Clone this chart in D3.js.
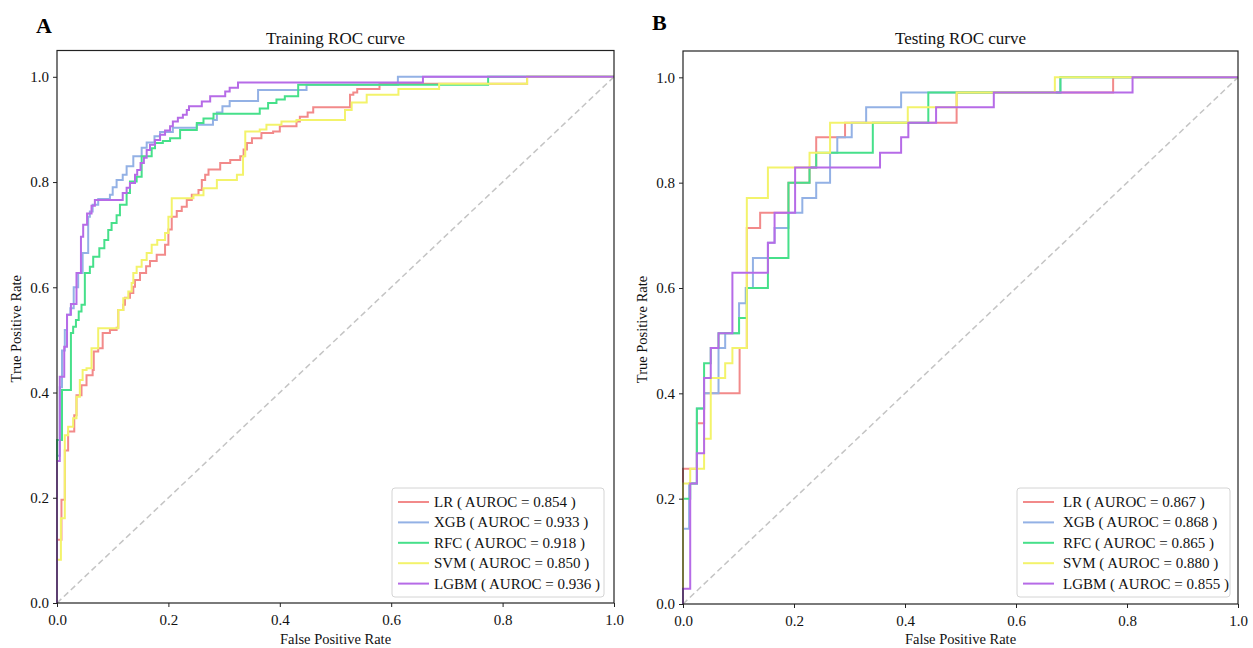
<!DOCTYPE html>
<html>
<head>
<meta charset="utf-8">
<script src="https://cdn.jsdelivr.net/npm/d3@7"></script>
<style>
  html, body { margin: 0; padding: 0; background: #fff; }
  svg { display: block; font-family: "Liberation Serif", "Times New Roman", serif; }
</style>
</head>
<body>
<svg id="chart" width="1253" height="648"></svg>
<script>
// Model names, colours and AUROC values
const models = ["LR", "XGB", "RFC", "SVM", "LGBM"];
const colors = ["#f28a8a", "#93b1e5", "#46e08a", "#f3f36b", "#b66be7"];
const trainAUC = [0.854, 0.933, 0.918, 0.850, 0.936];
const testAUC = [0.867, 0.868, 0.865, 0.880, 0.855];
const axisTicks = [0, 0.2, 0.4, 0.6, 0.8, 1.0];

// ROC corner points [FPR, TPR]; each point is the top of a vertical rise
const trainLR = [[0,0],[0,0.12],[0.008,0.196],[0.014,0.29],[0.02,0.326],[0.031,0.357],[0.035,0.395],[0.044,0.414],[0.053,0.433],[0.064,0.443],[0.066,0.478],[0.074,0.484],[0.082,0.513],[0.095,0.519],[0.107,0.523],[0.11,0.557],[0.119,0.567],[0.122,0.58],[0.131,0.589],[0.137,0.601],[0.14,0.614],[0.149,0.627],[0.16,0.64],[0.167,0.65],[0.179,0.662],[0.194,0.681],[0.2,0.71],[0.206,0.734],[0.215,0.745],[0.224,0.753],[0.233,0.766],[0.242,0.776],[0.254,0.785],[0.26,0.804],[0.266,0.814],[0.272,0.824],[0.293,0.836],[0.311,0.842],[0.329,0.849],[0.335,0.862],[0.341,0.874],[0.35,0.883],[0.367,0.893],[0.388,0.896],[0.4,0.906],[0.43,0.915],[0.436,0.924],[0.45,0.932],[0.46,0.942],[0.526,0.966],[0.532,0.97],[0.539,0.977],[0.579,0.987],[0.844,1],[1,1]];
const trainXGB = [[0,0],[0,0.28],[0.005,0.41],[0.009,0.48],[0.014,0.519],[0.018,0.548],[0.024,0.56],[0.03,0.6],[0.038,0.627],[0.046,0.665],[0.056,0.734],[0.059,0.744],[0.064,0.757],[0.074,0.768],[0.095,0.776],[0.1,0.79],[0.107,0.804],[0.118,0.814],[0.125,0.83],[0.137,0.849],[0.152,0.865],[0.161,0.875],[0.175,0.887],[0.185,0.895],[0.208,0.903],[0.251,0.909],[0.28,0.918],[0.287,0.932],[0.297,0.944],[0.31,0.954],[0.361,0.975],[0.448,0.985],[0.612,1],[1,1]];
const trainRFC = [[0,0],[0,0.31],[0.009,0.405],[0.025,0.513],[0.029,0.525],[0.034,0.538],[0.039,0.554],[0.044,0.567],[0.05,0.627],[0.059,0.639],[0.065,0.658],[0.076,0.674],[0.085,0.69],[0.092,0.709],[0.098,0.722],[0.107,0.737],[0.113,0.757],[0.125,0.779],[0.131,0.801],[0.143,0.81],[0.152,0.849],[0.17,0.864],[0.176,0.874],[0.19,0.878],[0.203,0.883],[0.221,0.899],[0.251,0.912],[0.263,0.921],[0.281,0.93],[0.364,0.94],[0.379,0.95],[0.394,0.957],[0.409,0.963],[0.433,0.985],[0.774,1],[1,1]];
const trainSVM = [[0,0],[0,0.082],[0.007,0.161],[0.014,0.319],[0.02,0.335],[0.029,0.351],[0.035,0.392],[0.041,0.424],[0.046,0.443],[0.053,0.446],[0.062,0.484],[0.074,0.522],[0.11,0.557],[0.119,0.579],[0.128,0.592],[0.134,0.608],[0.137,0.627],[0.143,0.639],[0.152,0.652],[0.161,0.665],[0.17,0.681],[0.18,0.69],[0.194,0.703],[0.2,0.734],[0.206,0.769],[0.245,0.775],[0.263,0.788],[0.287,0.804],[0.323,0.814],[0.334,0.849],[0.338,0.896],[0.364,0.9],[0.376,0.909],[0.403,0.915],[0.43,0.918],[0.517,0.937],[0.529,0.951],[0.556,0.966],[0.613,0.977],[0.686,0.987],[0.844,1],[1,1]];
const trainLGBM = [[0,0],[0,0.27],[0.005,0.43],[0.013,0.487],[0.018,0.548],[0.025,0.568],[0.035,0.627],[0.043,0.696],[0.047,0.719],[0.054,0.74],[0.062,0.755],[0.068,0.766],[0.118,0.779],[0.125,0.789],[0.131,0.798],[0.14,0.814],[0.144,0.823],[0.15,0.836],[0.156,0.846],[0.161,0.861],[0.167,0.871],[0.176,0.88],[0.185,0.89],[0.194,0.898],[0.203,0.906],[0.208,0.915],[0.217,0.922],[0.226,0.928],[0.233,0.937],[0.237,0.944],[0.26,0.953],[0.275,0.963],[0.302,0.972],[0.31,0.979],[0.325,0.989],[0.657,1],[1,1]];

const testLR = [[0,0],[0,0.257],[0.025,0.343],[0.038,0.4],[0.102,0.486],[0.115,0.714],[0.139,0.743],[0.19,0.8],[0.228,0.829],[0.24,0.886],[0.292,0.914],[0.493,0.971],[0.775,1],[1,1]];
const testXGB = [[0,0],[0,0.143],[0.011,0.229],[0.025,0.371],[0.038,0.4],[0.064,0.486],[0.076,0.514],[0.101,0.571],[0.113,0.6],[0.126,0.657],[0.153,0.686],[0.165,0.714],[0.19,0.743],[0.215,0.771],[0.24,0.8],[0.265,0.857],[0.278,0.886],[0.304,0.914],[0.33,0.943],[0.393,0.971],[0.68,1],[1,1]];
const testRFC = [[0,0],[0,0.2],[0.013,0.229],[0.025,0.371],[0.038,0.457],[0.05,0.486],[0.064,0.514],[0.101,0.543],[0.115,0.6],[0.153,0.657],[0.19,0.8],[0.228,0.829],[0.24,0.857],[0.342,0.914],[0.442,0.971],[0.68,1],[1,1]];
const testSVM = [[0,0],[0,0.229],[0.013,0.257],[0.038,0.314],[0.05,0.429],[0.076,0.457],[0.089,0.486],[0.115,0.771],[0.153,0.829],[0.228,0.857],[0.265,0.914],[0.405,0.943],[0.493,0.971],[0.67,1],[1,1]];
const testLGBM = [[0,0],[0,0.029],[0.013,0.229],[0.025,0.286],[0.038,0.429],[0.05,0.486],[0.064,0.514],[0.089,0.629],[0.153,0.686],[0.165,0.743],[0.202,0.829],[0.355,0.857],[0.393,0.886],[0.406,0.914],[0.456,0.943],[0.56,0.971],[0.81,1],[1,1]];

const trainCurves = [trainLR, trainXGB, trainRFC, trainSVM, trainLGBM];
const testCurves = [testLR, testXGB, testRFC, testSVM, testLGBM];

const svg = d3.select("#chart");
svg.append("rect").attr("width", 1253).attr("height", 648).attr("fill", "#fff");

function drawPanel(p) {
  const x = d3.scaleLinear().domain([0, 1]).range([p.left, p.right]);
  const y = d3.scaleLinear().domain([0, 1.05]).range([p.bottom, p.top]);
  const g = svg.append("g");

  // chance diagonal
  g.append("line")
    .attr("x1", x(0)).attr("y1", y(0)).attr("x2", x(1)).attr("y2", y(1))
    .attr("stroke", "#c4c4c4").attr("stroke-width", 1.5)
    .attr("stroke-dasharray", "6,3.5");

  const clipId = "clip-" + p.letter;
  svg.append("clipPath").attr("id", clipId).append("rect")
    .attr("x", p.left - 1).attr("y", p.top).attr("width", p.right - p.left + 2).attr("height", p.bottom - p.top + 1);

  const line = d3.line().x(d => x(d[0])).y(d => y(d[1])).curve(d3.curveStepAfter);
  g.append("g").attr("clip-path", `url(#${clipId})`)
    .selectAll("path").data(p.curves).join("path")
    .attr("d", line)
    .attr("fill", "none")
    .attr("stroke", (d, i) => colors[i])
    .attr("stroke-width", 2)
    .attr("stroke-linejoin", "miter");

  // axes
  const xAxis = d3.axisBottom(x).tickValues(axisTicks).tickFormat(d3.format(".1f")).tickSize(4).tickPadding(4);
  const yAxis = d3.axisLeft(y).tickValues(axisTicks).tickFormat(d3.format(".1f")).tickSize(4).tickPadding(4);
  const gx = g.append("g").attr("transform", `translate(0,${p.bottom})`).call(xAxis);
  const gy = g.append("g").attr("transform", `translate(${p.left},0)`).call(yAxis);
  [gx, gy].forEach(a => {
    a.select(".domain").remove();
    a.selectAll(".tick line").attr("stroke", "#222").attr("stroke-width", 1);
    a.selectAll(".tick text").attr("fill", "#111").style("font-size", "15px").style("font-family", "Liberation Serif, serif");
  });
  gx.selectAll(".tick text").attr("dy", "0.9em");

  // frame
  g.append("rect")
    .attr("x", p.left).attr("y", p.top)
    .attr("width", p.right - p.left).attr("height", p.bottom - p.top)
    .attr("fill", "none").attr("stroke", "#222").attr("stroke-width", 1.2);

  // titles and labels
  g.append("text").attr("x", (p.left + p.right) / 2).attr("y", p.top - 7)
    .attr("text-anchor", "middle").style("font-size", "17px").attr("fill", "#111")
    .text(p.title);
  g.append("text").attr("x", p.letterX).attr("y", p.letterY)
    .style("font-size", "22px").style("font-weight", "bold").attr("fill", "#000")
    .text(p.letter);
  g.append("text").attr("x", (p.left + p.right) / 2).attr("y", 644)
    .attr("text-anchor", "middle").style("font-size", "14.5px").attr("fill", "#111")
    .text("False Positive Rate");
  g.append("text")
    .attr("transform", `translate(${p.left - 36},${(p.top + p.bottom) / 2 + 2}) rotate(-90)`)
    .attr("text-anchor", "middle").style("font-size", "14.5px").attr("fill", "#111")
    .text("True Positive Rate");

  // legend
  const lg = g.append("g").attr("transform", `translate(${p.legX},${p.legY})`);
  lg.append("rect").attr("width", p.legW).attr("height", 109).attr("rx", 3)
    .attr("fill", "#fff").attr("fill-opacity", 0.85)
    .attr("stroke", "#d4d4d4").attr("stroke-width", 1);
  const items = lg.selectAll("g.item").data(models).join("g").attr("class", "item")
    .attr("transform", (d, i) => `translate(0,${14 + i * 20.4})`);
  items.append("line").attr("x1", 6).attr("x2", 37).attr("y1", 0).attr("y2", 0)
    .attr("stroke", (d, i) => colors[i]).attr("stroke-width", 2);
  items.append("text").attr("x", p.textX).attr("y", 5)
    .style("font-size", "15px").attr("fill", "#111")
    .text((d, i) => `${d} ( AUROC = ${d3.format(".3f")(p.auc[i])} )`);
}

drawPanel({ left: 57, right: 614, top: 50.5, bottom: 603, title: "Training ROC curve",
  letter: "A", letterX: 36, letterY: 33, curves: trainCurves, auc: trainAUC,
  legX: 392, legY: 488, legW: 212, textX: 42 });
drawPanel({ left: 683, right: 1238, top: 51, bottom: 604, title: "Testing ROC curve",
  letter: "B", letterX: 652, letterY: 30, curves: testCurves, auc: testAUC,
  legX: 1017, legY: 488, legW: 213, textX: 46 });
</script>
</body>
</html>
